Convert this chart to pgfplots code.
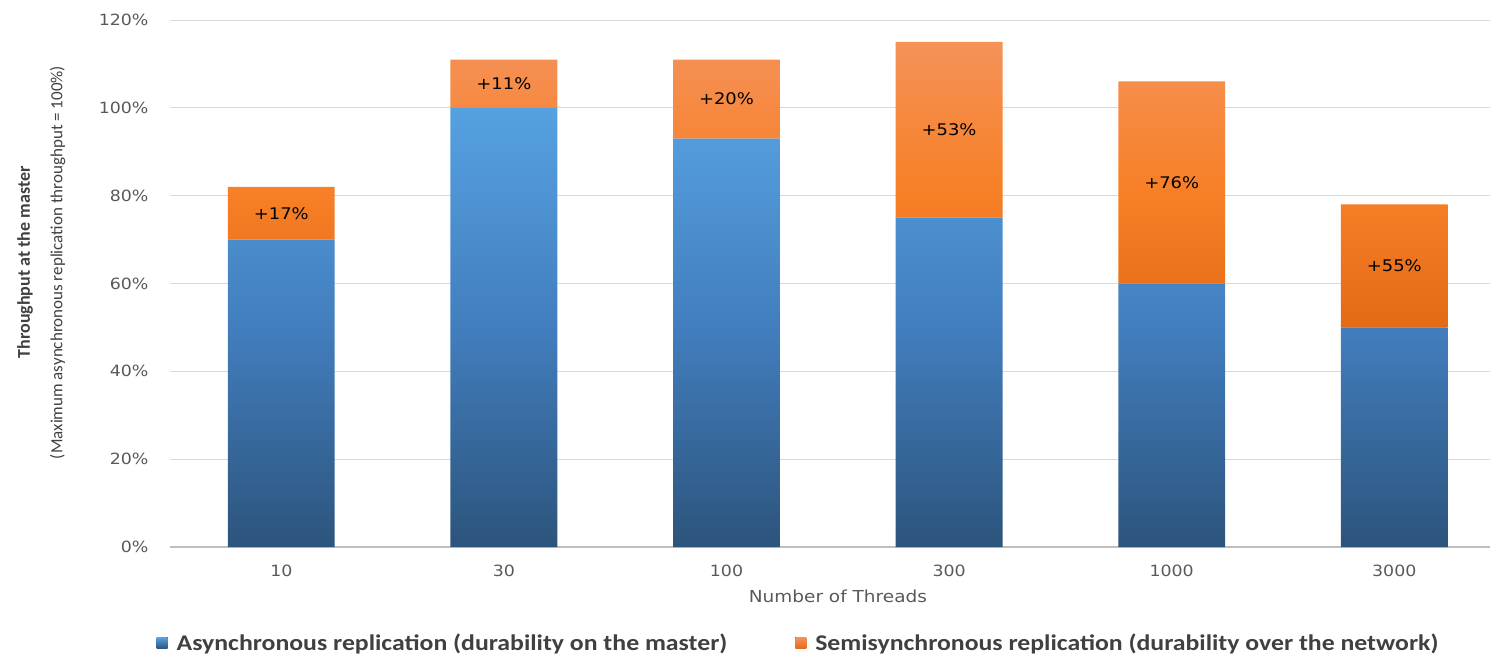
\documentclass[border=0pt]{standalone}
\usepackage{pgfplots}
\pgfplotsset{compat=1.18}
\usepackage{pgfplotstable}
\usepackage{fontspec}
\setmainfont{DejaVu Sans}
\newfontfamily\tickf[FakeStretch=1.12]{DejaVu Sans}
\newfontfamily\calf{Carlito}
\newfontfamily\legf[FakeStretch=1.15]{Carlito}

\definecolor{blueT}{RGB}{86,161,225}
\definecolor{blueM}{RGB}{66,126,190}
\definecolor{blueB}{RGB}{44,84,124}
\definecolor{orT}{RGB}{245,146,88}
\definecolor{orM}{RGB}{247,128,40}
\definecolor{orB}{RGB}{228,107,22}
\definecolor{gridc}{RGB}{217,217,217}
\definecolor{axc}{RGB}{191,191,191}
\definecolor{tickc}{RGB}{89,89,89}
\definecolor{labc}{RGB}{64,64,64}

% x, asynchronous, semisynchronous increment, gain label, label height (middle of orange part)
\pgfplotstableread{
x async semi gain mid
0 70 12 17 76
1 100 11 11 105.5
2 93 18 20 102
3 75 40 53 95
4 60 46 76 83
5 50 28 55 64
}\datatable

\pgfplotsset{commonax/.style={
  at={(0pt,0pt)}, anchor=south west,
  scale only axis, width=1320pt, height=527pt,
  xmin=-0.5, xmax=5.43, ymin=0, ymax=120,
  enlargelimits=false, clip=false,
  /pgf/number format/assume math mode=true}}

\begin{document}
\begin{tikzpicture}
\path[use as bounding box] (-170pt,-110pt) rectangle (1320pt,547pt);
\begin{axis}[
  commonax,
  ybar stacked, bar width=0.48,
  xtick={0,...,5}, xticklabels={10,30,100,300,1000,3000},
  ytick={0,20,...,120},
  yticklabel={\pgfmathprintnumber{\tick}\%},
  major tick length=0pt,
  axis x line=bottom, axis y line=left,
  axis line style={-},
  y axis line style={draw=none},
  x axis line style={draw=axc, line width=1.3pt},
  ymajorgrids, grid style={draw=gridc, line width=0.8pt},
  tick label style={font=\tickf\fontsize{15.5}{18}\selectfont, text=tickc},
  yticklabel style={xshift=-18pt},
  xticklabel style={yshift=-14pt},
  xlabel={Number of Threads},
  every axis x label/.style={at={(axis description cs:0.506,0)}, anchor=center, yshift=-49pt,
     font=\tickf\fontsize{16.5}{18}\selectfont, text=tickc},
  ylabel={{\bfseries\fontsize{18}{20}\selectfont Throughput at the master}\\[16pt]{\fontsize{17}{18}\selectfont (Maximum asynchronous replication throughput = 100\%)}},
  every axis y label/.style={at={(axis description cs:-0.0975,0.54)}, anchor=center, rotate=90,
     align=center, font=\calf, text=labc},
  legend style={at={(-0.0125,-0.182)}, anchor=west, legend columns=2, draw=none, fill=none,
     font=\legf\bfseries\fontsize{22.4}{24}\selectfont, text=labc,
     /tikz/every odd column/.append style={column sep=7pt},
     /tikz/every even column/.append style={column sep=66pt}},
  legend cell align=left,
]
\addplot[draw=none, top color=blueT, bottom color=blueB, middle color=blueM,
  legend image code/.code={\fill[top color=blueT, bottom color=blueB] (0pt,-5.5pt) rectangle (11pt,5.5pt);}]
  table[x=x,y=async]{\datatable};
\addplot[draw=none, top color=orT, bottom color=orB, middle color=orM,
  legend image code/.code={\fill[top color=orT, bottom color=orB] (0pt,-5.5pt) rectangle (11pt,5.5pt);}]
  table[x=x,y=semi]{\datatable};
\legend{Asynchronous replication (durability on the master), Semisynchronous replication (durability over the network)}
\end{axis}
\begin{axis}[commonax, hide axis]
\addplot[draw=none, mark=none,
  nodes near coords={+\pgfmathprintnumber{\pgfplotspointmeta}\%},
  point meta=explicit,
  every node near coord/.append style={anchor=center,
     font=\tickf\fontsize{16}{18}\selectfont, text=black}]
  table[x=x,y=mid,meta=gain]{\datatable};
\end{axis}
\end{tikzpicture}
\end{document}
